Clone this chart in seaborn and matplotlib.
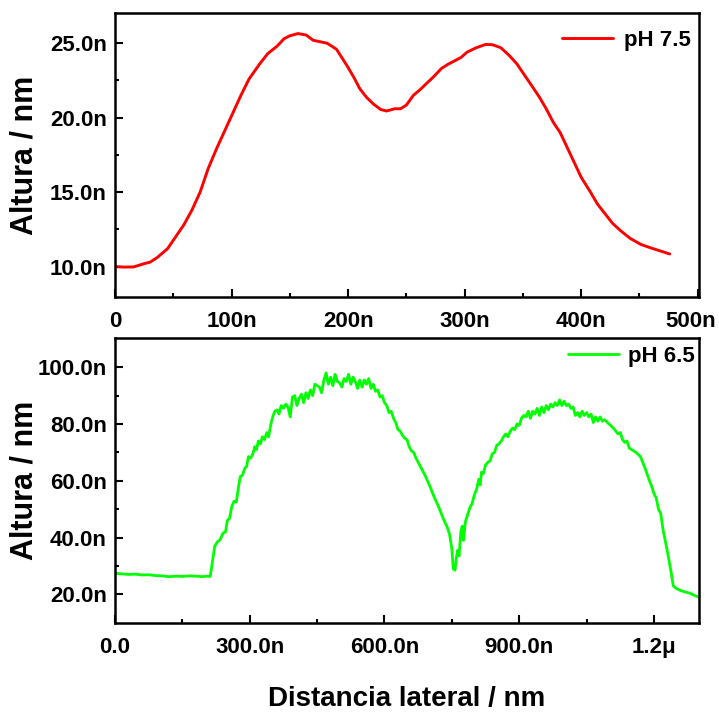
import seaborn as sns
import matplotlib.pyplot as plt
import matplotlib.transforms as mtransforms
import pandas as pd

# pH 7.5 perfil (nm)
x_ph75 = [0, 8, 16, 25, 30, 36, 45, 52, 59, 66, 73, 80, 87, 94, 101, 108, 115, 124, 131, 139,
          145, 150, 157, 164, 170, 176, 182, 190, 199, 205, 210, 216, 222, 228, 233, 240, 245,
          250, 256, 262, 268, 274, 280, 286, 291, 297, 302, 310, 318, 324, 331, 338, 345, 351,
          358, 364, 370, 376, 382, 388, 394, 400, 408, 414, 420, 427, 434, 442, 451, 460, 468, 476]
y_ph75 = [10.0, 9.97, 9.98, 10.2, 10.3, 10.6, 11.2, 12.0, 12.8, 13.8, 15.0, 16.6, 17.9, 19.1, 20.3,
          21.5, 22.6, 23.6, 24.3, 24.8, 25.3, 25.5, 25.65, 25.55, 25.2, 25.1, 25.0, 24.6, 23.5, 22.7,
          21.95, 21.35, 20.9, 20.55, 20.45, 20.6, 20.6, 20.85, 21.5, 21.9, 22.35, 22.8, 23.3, 23.6,
          23.8, 24.05, 24.4, 24.7, 24.92, 24.9, 24.7, 24.2, 23.6, 22.9, 22.1, 21.4, 20.6, 19.7,
          19.0, 18.0, 17.0, 16.0, 15.0, 14.2, 13.6, 12.9, 12.4, 11.9, 11.5, 11.25, 11.05, 10.85]

# pH 6.5 perfil (nm)
x_ph65 = [0, 15, 30, 45, 60, 75, 90, 105, 120, 135, 150, 165, 180, 195, 205, 212,
          222, 228, 234, 240, 246, 250, 255, 260, 265, 270, 275, 279, 284, 289, 293, 297,
          302, 307, 311, 315, 319, 324, 328, 333, 338, 342, 347, 352, 356, 361, 365, 370,
          375, 380, 385, 390, 395, 400, 405, 410, 415, 420, 425, 430, 435, 440, 445, 450,
          455, 460, 465, 470, 475, 480, 485, 490, 495, 500, 505, 510, 515, 520, 525, 530,
          535, 540, 545, 550, 555, 560, 565, 570, 575, 580, 585, 590, 595, 600, 605, 610,
          615, 620, 625, 630, 635, 640, 645, 650, 655, 660, 665, 670, 680, 690, 700, 710,
          720, 730, 740, 745, 750, 753, 757, 760, 763, 766, 770, 773, 776, 780, 785, 790,
          795, 800, 805, 810, 813, 816, 820, 825, 830, 835, 840, 845, 850, 855, 860, 865,
          870, 875, 880, 885, 890, 895, 900, 905, 910, 915, 920, 925, 930, 935, 940, 945,
          950, 955, 960, 965, 970, 975, 980, 985, 990, 995, 1000, 1005, 1010, 1015, 1020,
          1025, 1030, 1035, 1040, 1045, 1050, 1055, 1060, 1065, 1070, 1075, 1080, 1085,
          1090, 1100, 1110, 1120, 1125, 1130, 1135, 1140, 1145, 1150, 1160, 1170, 1180,
          1190, 1195, 1200, 1205, 1210, 1215, 1220, 1230, 1238, 1243, 1250, 1260, 1270,
          1280, 1290, 1300]
y_ph65 = [27.4, 27.2, 27.0, 27.1, 26.8, 26.9, 26.6, 26.5, 26.2, 26.4, 26.3, 26.5, 26.4, 26.2, 26.4, 26.3,
          37.0, 38.5, 39.2, 41.5, 42.0, 46.0, 46.8, 51.0, 52.8, 52.5, 58.0, 61.5, 62.0, 64.5, 65.0, 68.5,
          68.0, 69.5, 72.0, 71.0, 74.0, 73.0, 75.5, 74.5, 77.0, 75.5, 80.0, 83.0, 84.5, 85.0, 83.5, 86.5,
          85.5, 87.0, 86.0, 82.5, 89.5, 90.0, 86.5, 89.0, 90.5, 87.5, 91.0, 89.0, 92.0, 90.0, 94.0, 93.5,
          93.0, 91.0, 95.5, 98.0, 94.0, 96.5, 93.5, 97.5, 95.0, 94.5, 93.0, 96.0, 95.0, 97.5, 94.0, 96.5,
          95.0, 92.5, 95.5, 93.0, 95.5, 94.0, 96.0, 92.5, 94.0, 91.5, 92.0, 89.5, 90.0, 87.5, 86.5, 84.0,
          84.5, 82.0, 80.5, 78.0, 77.5, 76.0, 75.0, 74.5, 72.0, 70.5, 70.0, 68.0, 65.0, 62.0, 58.5, 54.5,
          51.0, 47.0, 43.5, 41.0, 36.0, 29.0, 28.5, 33.0, 35.5, 33.5, 42.0, 44.0, 39.0, 45.5, 48.0, 50.5,
          52.0, 55.0, 57.0, 60.5, 58.5, 63.0, 62.5, 65.5, 66.5, 67.0, 69.5, 70.0, 72.5, 73.0, 74.0, 75.5,
          76.5, 75.5, 77.5, 78.5, 78.0, 80.0, 79.5, 82.0, 83.0, 82.5, 84.5, 82.0, 84.5, 83.5, 85.5, 83.0,
          86.0, 84.0, 86.5, 85.0, 87.0, 86.0, 87.5, 86.5, 88.5, 86.5, 88.0, 86.5, 87.0, 85.5, 86.0,
          83.0, 84.0, 82.5, 84.5, 83.0, 84.0, 82.5, 83.5, 80.5, 82.5, 81.0, 82.5, 81.0,
          81.5, 80.0, 78.5, 76.5, 77.0, 74.5, 73.5, 74.0, 71.5, 71.0, 70.0, 68.5, 64.5,
          60.0, 58.0, 55.5, 54.0, 50.0, 48.5, 43.0, 35.0, 28.0, 23.0, 22.0, 21.3, 20.8,
          20.4, 19.6, 19.0]

xticks_top = [0, 100, 200, 300, 400, 500]
xticklabels_top = ['0', '100n', '200n', '300n', '400n', '500n']
yticks_top = [10, 15, 20, 25]
yticklabels_top = ['10.0n', '15.0n', '20.0n', '25.0n']
xticks_bot = [0, 300, 600, 900, 1200]
xticklabels_bot = ['0.0', '300.0n', '600.0n', '900.0n', '1.2\u03bc']
yticks_bot = [20, 40, 60, 80, 100]
yticklabels_bot = ['20.0n', '40.0n', '60.0n', '80.0n', '100.0n']

sns.set_style("ticks")
plt.rcParams['font.family'] = ['Liberation Sans', 'DejaVu Sans']
plt.rcParams['font.weight'] = 'bold'
for k in ['text.color', 'axes.labelcolor', 'xtick.color', 'ytick.color', 'axes.edgecolor']:
    plt.rcParams[k] = 'black'

fig = plt.figure(figsize=(7.19, 7.15), dpi=100)
ax1 = fig.add_axes([0.16, 0.5846, 0.812, 0.3972])
ax2 = fig.add_axes([0.16, 0.1287, 0.812, 0.3986])

df75 = pd.DataFrame({'x': x_ph75, 'y': y_ph75})
df65 = pd.DataFrame({'x': x_ph65, 'y': y_ph65})
sns.lineplot(data=df75, x='x', y='y', ax=ax1, color='#ff0000', lw=2.1, label='pH 7.5', sort=False)
sns.lineplot(data=df65, x='x', y='y', ax=ax2, color='#00ff00', lw=2.0, label='pH 6.5', sort=False)

ax1.set_xlim(0, 501)
ax1.set_ylim(7.96, 27.03)
ax1.set_xticks(xticks_top, xticklabels_top)
ax1.set_yticks(yticks_top, yticklabels_top)
ax1.set_xticks([50, 150, 250, 350, 450], minor=True)
ax1.set_yticks([12.5, 17.5, 22.5], minor=True)

ax2.set_xlim(0, 1300)
ax2.set_ylim(9.9, 110.3)
ax2.set_xticks(xticks_bot, xticklabels_bot)
ax2.set_yticks(yticks_bot, yticklabels_bot)
ax2.set_xticks([150, 450, 750, 1050], minor=True)
ax2.set_yticks([30, 50, 70, 90], minor=True)

for ax in (ax1, ax2):
    for s in ax.spines.values():
        s.set_linewidth(1.8)
    ax.tick_params(which='major', direction='in', length=6, width=1.5, labelsize=16)
    ax.tick_params(which='minor', direction='in', length=3, width=1.5)
    ax.tick_params(axis='x', which='major', pad=10)
    ax.tick_params(axis='y', which='major', pad=6)
    for t in ax.get_xticklabels() + ax.get_yticklabels():
        t.set_fontweight('bold')
    ax.set_ylabel('Altura / nm', fontsize=22, fontweight='bold')
    ax.yaxis.set_label_coords(-0.13, 0.5)
    ax.set_xlabel('')

# "500n" rozando el borde derecho: desplazar un poco a la izquierda
last = ax1.get_xticklabels()[-1]
last.set_transform(last.get_transform() + mtransforms.ScaledTranslation(-5 / 72, 0, fig.dpi_scale_trans))

ax2.set_xlabel('Distancia lateral / nm', fontsize=20, fontweight='bold')
ax2.xaxis.set_label_coords(0.5, -0.22)

ax1.legend(loc='upper right', frameon=False, fontsize=16, handlelength=2.3,
           handletextpad=0.5, bbox_to_anchor=(1.015, 1.0), borderaxespad=0.35)
ax2.legend(loc='upper right', frameon=False, fontsize=16, handlelength=2.3,
           handletextpad=0.4, bbox_to_anchor=(1.012, 1.01), borderaxespad=0.1)

plt.savefig('out.png', dpi=100)
